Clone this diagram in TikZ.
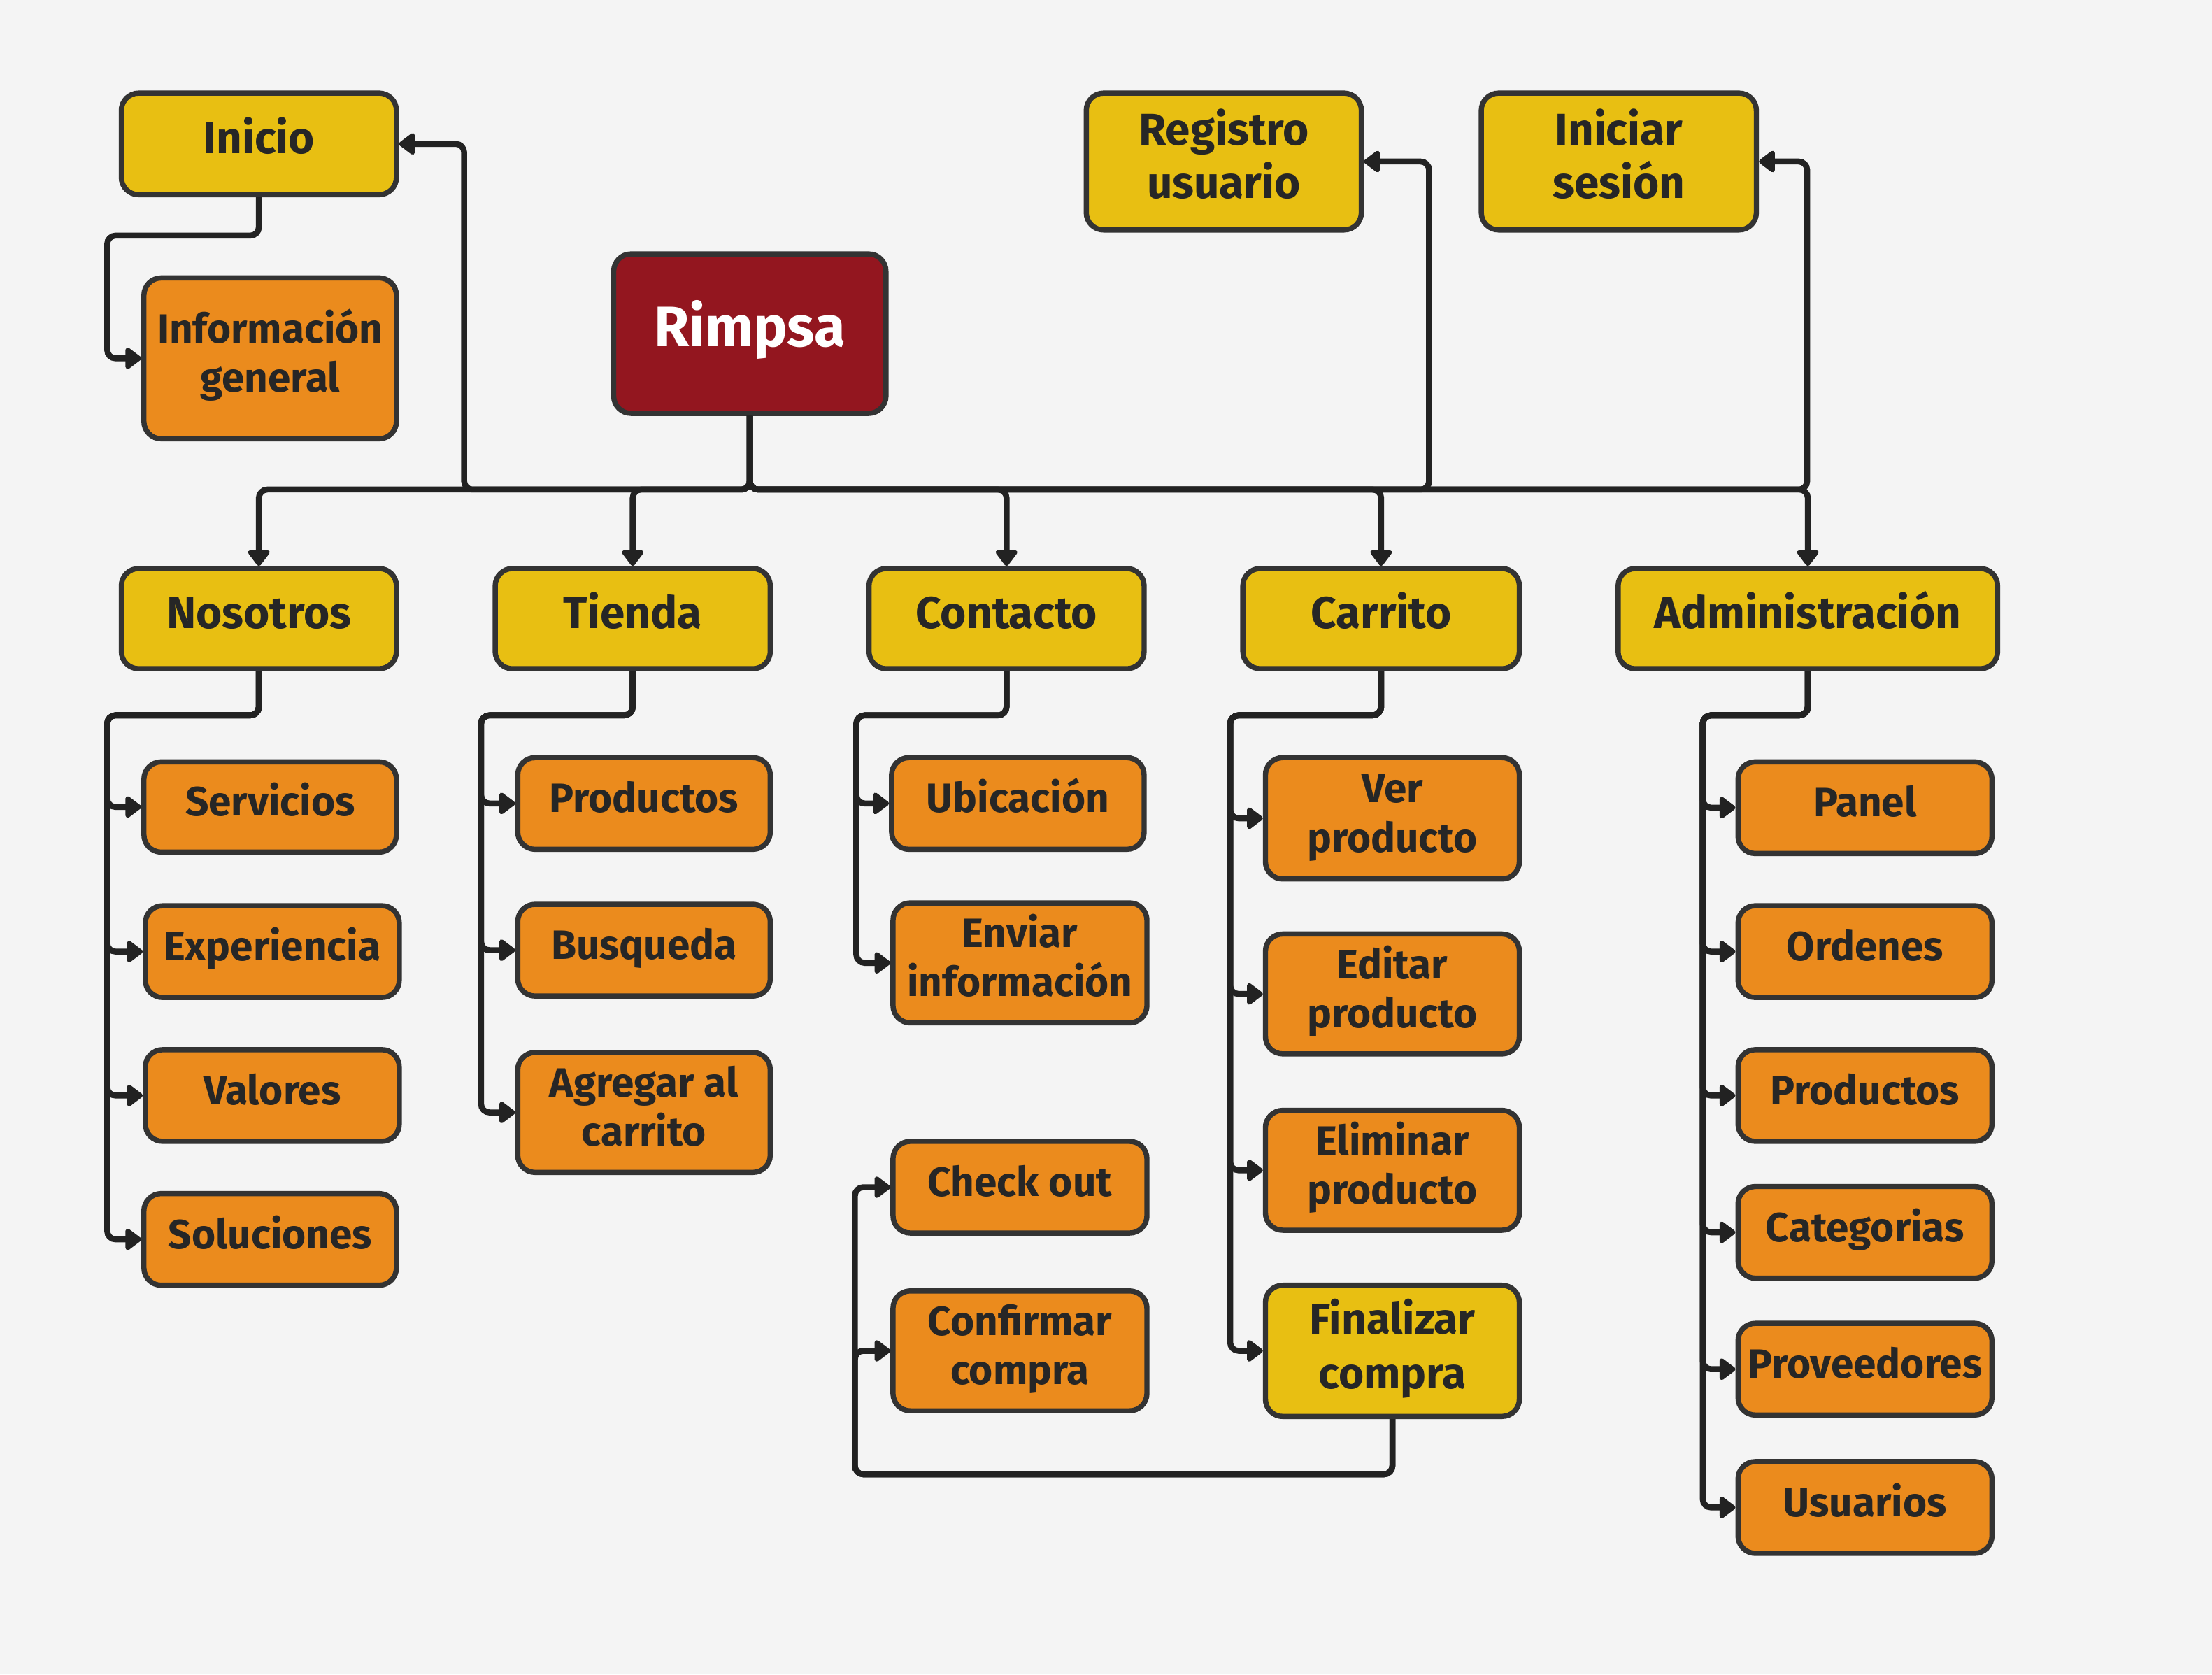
\documentclass[tikz,border=0pt]{standalone}
\usepackage{fontspec}
\setmainfont{Fira Sans}
\usetikzlibrary{arrows.meta}
\definecolor{bgc}{HTML}{F4F4F4}
\definecolor{ylw}{HTML}{E8BF12}
\definecolor{org}{HTML}{EB8B1D}
\definecolor{rdc}{HTML}{93161F}
\definecolor{brd}{HTML}{333333}
\definecolor{lnc}{HTML}{222222}
\definecolor{txc}{HTML}{262626}
\newcommand\bx[7]{\node[#2, minimum width={(#5-#3)*0.02cm}, minimum height={(#6-#4)*0.02cm}] (#1) at ({(#3+#5)/2},{(#4+#6)/2}) {\raisebox{0pt}[\height][\dimexpr\depth+0.6pt\relax]{\begin{tabular}{@{}c@{}}#7\end{tabular}}};}
\tikzset{
  boxbase/.style={draw=brd, line width=2.1pt, rounded corners=7pt, inner sep=0pt, text=txc, font=\bfseries},
  hbox/.style={boxbase, fill=ylw, font=\bfseries\fontsize{18}{21.5}\selectfont},
  cbox/.style={boxbase, fill=org, font=\bfseries\fontsize{16.5}{19.8}\selectfont},
  ycbox/.style={boxbase, fill=ylw, font=\bfseries\fontsize{17.5}{22}\selectfont},
  rootbox/.style={boxbase, fill=rdc, text=white, font=\bfseries\fontsize{23}{26}\selectfont},
  arr/.style={draw=lnc, line width=2.4pt, rounded corners=3.4pt, -{Triangle[width=10pt,length=7pt,round]}},
}
\begin{document}
\begin{tikzpicture}[x=0.02cm,y=-0.02cm]
\fill[bgc] (0,0) rectangle (1568,1187);
% top
\bx{inicio}{hbox}{86}{66}{281}{138}{Inicio}
\bx{info}{cbox}{102}{197}{281}{311}{Información\\general}
\bx{rimpsa}{rootbox}{435}{180}{628}{293}{Rimpsa}
\bx{registro}{hbox}{770}{66}{965}{163}{Registro\\usuario}
\bx{iniciar}{hbox}{1050}{66}{1245}{163}{Iniciar\\sesión}
% headers
\bx{nosotros}{hbox}{86}{403}{281}{474}{Nosotros}
\bx{tienda}{hbox}{351}{403}{546}{474}{Tienda}
\bx{contacto}{hbox}{616}{403}{811}{474}{Contacto}
\bx{carrito}{hbox}{881}{403}{1077}{474}{Carrito}
\bx{admin}{hbox}{1147}{403}{1416}{474}{Administración}
% nosotros children
\bx{servicios}{cbox}{102}{540}{281}{604}{Servicios}
\bx{experiencia}{cbox}{103}{642}{283}{707}{Experiencia}
\bx{valores}{cbox}{103}{744}{283}{809}{Valores}
\bx{soluciones}{cbox}{102}{846}{281}{911}{Soluciones}
% tienda children
\bx{productos}{cbox}{367}{537}{546}{602}{Productos}
\bx{busqueda}{cbox}{367}{641}{546}{706}{Busqueda}
\bx{agregar}{cbox}{367}{746}{546}{831}{Agregar al\\carrito}
% contacto children
\bx{ubicacion}{cbox}{632}{537}{811}{602}{Ubicación}
\bx{enviar}{cbox}{633}{640}{813}{725}{Enviar\\información}
\bx{checkout}{cbox}{633}{809}{813}{874}{Check out}
\bx{confirmar}{cbox}{633}{915}{813}{1000}{Confirmar\\compra}
% carrito children
\bx{ver}{cbox}{897}{537}{1077}{623}{Ver\\producto}
\bx{editar}{cbox}{897}{662}{1077}{747}{Editar\\producto}
\bx{eliminar}{cbox}{897}{787}{1077}{872}{Eliminar\\producto}
\bx{finalizar}{ycbox}{897}{911}{1077}{1004}{Finalizar\\compra}
% admin children
\bx{panel}{cbox}{1232}{540}{1412}{605}{Panel}
\bx{ordenes}{cbox}{1232}{642}{1412}{707}{Ordenes}
\bx{aproductos}{cbox}{1232}{744}{1412}{809}{Productos}
\bx{categorias}{cbox}{1232}{841}{1412}{906}{Categorias}
\bx{proveedores}{cbox}{1232}{938}{1412}{1003}{Proveedores}
\bx{usuarios}{cbox}{1232}{1036}{1412}{1101}{Usuarios}
% coordinates
\coordinate (busY) at (0,347);
\coordinate (jI) at (329,347);
\coordinate (jR) at (1013,347);
\coordinate (jS) at (1281,347);
\coordinate (cI) at (76,167);
\coordinate (cN) at (76,507);
\coordinate (cT) at (341,507);
\coordinate (cC) at (607,507);
\coordinate (cK) at (872,507);
\coordinate (cA) at (1207,507);
\coordinate (cF) at (606,1045);
% main connectors
\foreach \t in {nosotros,tienda,contacto,carrito,admin}
  \draw[arr] (rimpsa.south) |- (\t.north |- busY) -- (\t.north);
\draw[arr] (rimpsa.south) |- (jI) |- (inicio.east);
\draw[arr] (rimpsa.south) |- (jR) |- (registro.east);
\draw[arr] (rimpsa.south) |- (jS) |- (iniciar.east);
\draw[arr] (inicio.south) |- (cI) |- (info.west);
\foreach \t in {servicios,experiencia,valores,soluciones}
  \draw[arr] (nosotros.south) |- (cN) |- (\t.west);
\foreach \t in {productos,busqueda,agregar}
  \draw[arr] (tienda.south) |- (cT) |- (\t.west);
\foreach \t in {ubicacion,enviar}
  \draw[arr] (contacto.south) |- (cC) |- (\t.west);
\foreach \t in {ver,editar,eliminar,finalizar}
  \draw[arr] (carrito.south) |- (cK) |- (\t.west);
\foreach \t in {panel,ordenes,aproductos,categorias,proveedores,usuarios}
  \draw[arr] (admin.south) |- (cA) |- (\t.west);
\foreach \t in {checkout,confirmar}
  \draw[arr] (finalizar.south) |- (cF) |- (\t.west);
\end{tikzpicture}
\end{document}
